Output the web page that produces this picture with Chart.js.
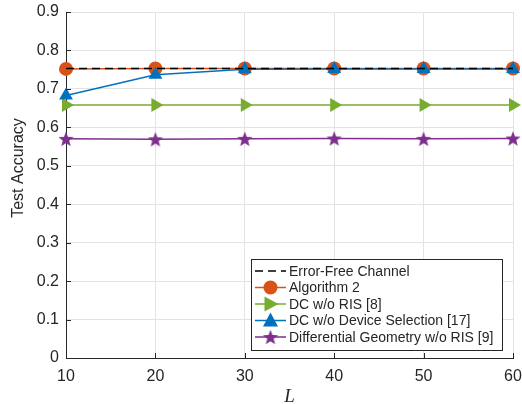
<!DOCTYPE html>
<html>
<head>
<meta charset="utf-8">
<script src="https://cdn.jsdelivr.net/npm/chart.js@4/dist/chart.umd.min.js"></script>
<style>
  html, body { margin: 0; padding: 0; background: #fff; }
  #wrap { width: 522px; height: 404px; position: relative; }
</style>
</head>
<body>
<div id="wrap"><canvas id="canvas" width="522" height="404"></canvas></div>
<script>
// data
const L = [10, 20, 30, 40, 50, 60]
const errorFree = [0.753, 0.753, 0.753, 0.753, 0.753, 0.753]
const algo2 = [0.752, 0.753, 0.753, 0.753, 0.753, 0.753]
const dcNoRis = [0.658, 0.658, 0.658, 0.658, 0.658, 0.658]
const dcNoSel = [0.683, 0.737, 0.751, 0.752, 0.752, 0.752]
const diffGeo = [0.570, 0.569, 0.570, 0.571, 0.570, 0.571]
const yTicks = [0, 0.1, 0.2, 0.3, 0.4, 0.5, 0.6, 0.7, 0.8, 0.9]

const names = ['Error-Free Channel', 'Algorithm 2', 'DC w/o RIS [8]', 'DC w/o Device Selection [17]', 'Differential Geometry w/o RIS [9]']
const colors = ['#000000', '#D95319', '#77AC30', '#0072BD', '#7E2F8E']
const SANS = '"Liberation Sans", Arial, Helvetica, sans-serif'

// filled five point star as a point image
function makeStar(r, color) {
  const c = document.createElement('canvas')
  c.width = r * 2 + 2
  c.height = r * 2 + 2
  const g = c.getContext('2d')
  g.fillStyle = color
  g.beginPath()
  for (let i = 0; i < 10; i++) {
    const rad = i % 2 == 0 ? r : r * 0.42
    const a = -Math.PI / 2 + i * Math.PI / 5
    const px = r + 1 + rad * Math.cos(a)
    const py = r + 1 + rad * Math.sin(a) + r * 0.1
    if (i == 0) g.moveTo(px, py); else g.lineTo(px, py)
  }
  g.closePath()
  g.fill()
  return c
}
const star = makeStar(8, colors[4])

function pts(arr) {
  return arr.map((v, i) => ({ x: L[i], y: v }))
}

// legend drawn inside the axes, like the original
const boxLegend = {
  id: 'boxLegend',
  afterDraw(chart) {
    const ctx = chart.ctx
    const x0 = 251, y0 = 259, w = 251, h = 91
    ctx.save()
    ctx.fillStyle = '#fff'
    ctx.fillRect(x0, y0, w, h)
    ctx.strokeStyle = '#262626'
    ctx.lineWidth = 1
    ctx.strokeRect(x0 + 0.5, y0 + 0.5, w, h)
    ctx.font = '14px ' + SANS
    ctx.textBaseline = 'middle'
    const rows = [271, 287.5, 304, 320.5, 337]
    rows.forEach((yy, i) => {
      ctx.strokeStyle = colors[i]
      ctx.lineWidth = 1.5
      if (i == 0) ctx.setLineDash([8, 5]); else ctx.setLineDash([])
      ctx.beginPath()
      ctx.moveTo(255, yy)
      ctx.lineTo(286, yy)
      ctx.stroke()
      ctx.setLineDash([])
      ctx.fillStyle = colors[i]
      const cx = 270.5
      if (i == 1) {
        ctx.beginPath(); ctx.arc(cx, yy, 7, 0, Math.PI * 2); ctx.fill()
      } else if (i == 2) {
        ctx.beginPath(); ctx.moveTo(cx - 6, yy - 7.5); ctx.lineTo(cx + 8, yy); ctx.lineTo(cx - 6, yy + 7.5); ctx.closePath(); ctx.fill()
      } else if (i == 3) {
        ctx.beginPath(); ctx.moveTo(cx, yy - 8); ctx.lineTo(cx + 7.5, yy + 6); ctx.lineTo(cx - 7.5, yy + 6); ctx.closePath(); ctx.fill()
      } else if (i == 4) {
        ctx.drawImage(star, cx - star.width / 2, yy - star.height / 2)
      }
      ctx.fillStyle = '#262626'
      ctx.fillText(names[i], 289, yy + 1)
    })
    ctx.restore()
  }
}

// small inward tick marks on left and bottom axes, plus the y label
const innerTicks = {
  id: 'innerTicks',
  afterDatasetsDraw(chart) {
    const ctx = chart.ctx
    const a = chart.chartArea
    const xs = chart.scales.x, ys = chart.scales.y
    ctx.save()
    ctx.strokeStyle = '#262626'
    ctx.lineWidth = 1
    ctx.beginPath()
    yTicks.forEach(v => {
      const y = Math.round(ys.getPixelForValue(v)) + 0.5
      ctx.moveTo(a.left, y); ctx.lineTo(a.left + 5, y)
    })
    L.forEach(v => {
      const x = Math.round(xs.getPixelForValue(v)) + 0.5
      ctx.moveTo(x, a.bottom); ctx.lineTo(x, a.bottom - 5)
    })
    ctx.stroke()
    // y title
    ctx.translate(19, 168)
    ctx.rotate(-Math.PI / 2)
    ctx.fillStyle = '#262626'
    ctx.font = '16px ' + SANS
    ctx.textAlign = 'center'
    ctx.textBaseline = 'middle'
    ctx.fillText('Test Accuracy', 0, 0)
    ctx.restore()
  }
}

const ctx = document.getElementById('canvas').getContext('2d')
const myChart = new Chart(ctx, {
  type: 'line',
  data: {
    datasets: [
      { label: names[0], data: pts(errorFree), borderColor: colors[0], borderWidth: 1.5, borderDash: [8, 5], pointRadius: 0, order: 0 },
      { label: names[1], data: pts(algo2), borderColor: colors[1], backgroundColor: colors[1], borderWidth: 1.5, pointStyle: 'circle', pointRadius: 7, pointBorderWidth: 0, order: 2 },
      { label: names[2], data: pts(dcNoRis), borderColor: colors[2], backgroundColor: colors[2], borderWidth: 1.5, pointStyle: 'triangle', rotation: 90, pointRadius: 8, pointBorderWidth: 0, order: 3 },
      { label: names[3], data: pts(dcNoSel), borderColor: colors[3], backgroundColor: colors[3], borderWidth: 1.5, pointStyle: 'triangle', pointRadius: 8, pointBorderWidth: 0, order: 1 },
      { label: names[4], data: pts(diffGeo), borderColor: colors[4], backgroundColor: colors[4], borderWidth: 1.5, pointStyle: star, order: 4 }
    ]
  },
  options: {
    responsive: false,
    animation: false,
    clip: false,
    layout: { padding: { left: 0, right: 9, top: 12, bottom: 0 } },
    plugins: {
      legend: { display: false },
      tooltip: { enabled: false }
    },
    scales: {
      x: {
        type: 'linear',
        min: 10,
        max: 60,
        afterBuildTicks: s => { s.ticks = L.map(v => ({ value: v })) },
        grid: { color: '#e3e3e3', tickLength: 0 },
        border: { color: '#262626', width: 1 },
        ticks: { color: '#262626', font: { family: SANS, size: 16 }, padding: 9, maxRotation: 0 },
        title: { display: true, text: 'L', color: '#262626', font: { family: '"Liberation Serif", "Times New Roman", serif', size: 19, style: 'italic', lineHeight: 0.7 }, padding: { top: 0, bottom: 0 } },
        afterFit: s => { s.height = 46; s.paddingLeft = 0; s.paddingRight = 0 }
      },
      y: {
        min: 0,
        max: 0.9,
        afterBuildTicks: s => { s.ticks = yTicks.map(v => ({ value: v })) },
        grid: { color: '#e3e3e3', tickLength: 0 },
        border: { color: '#262626', width: 1 },
        ticks: { color: '#262626', font: { family: SANS, size: 16 }, padding: 7, callback: v => String(Math.round(v * 10) / 10) },
        afterFit: s => { s.width = 66; s.paddingTop = 0; s.paddingBottom = 0 }
      }
    }
  },
  plugins: [innerTicks, boxLegend]
})
</script>
</body>
</html>
